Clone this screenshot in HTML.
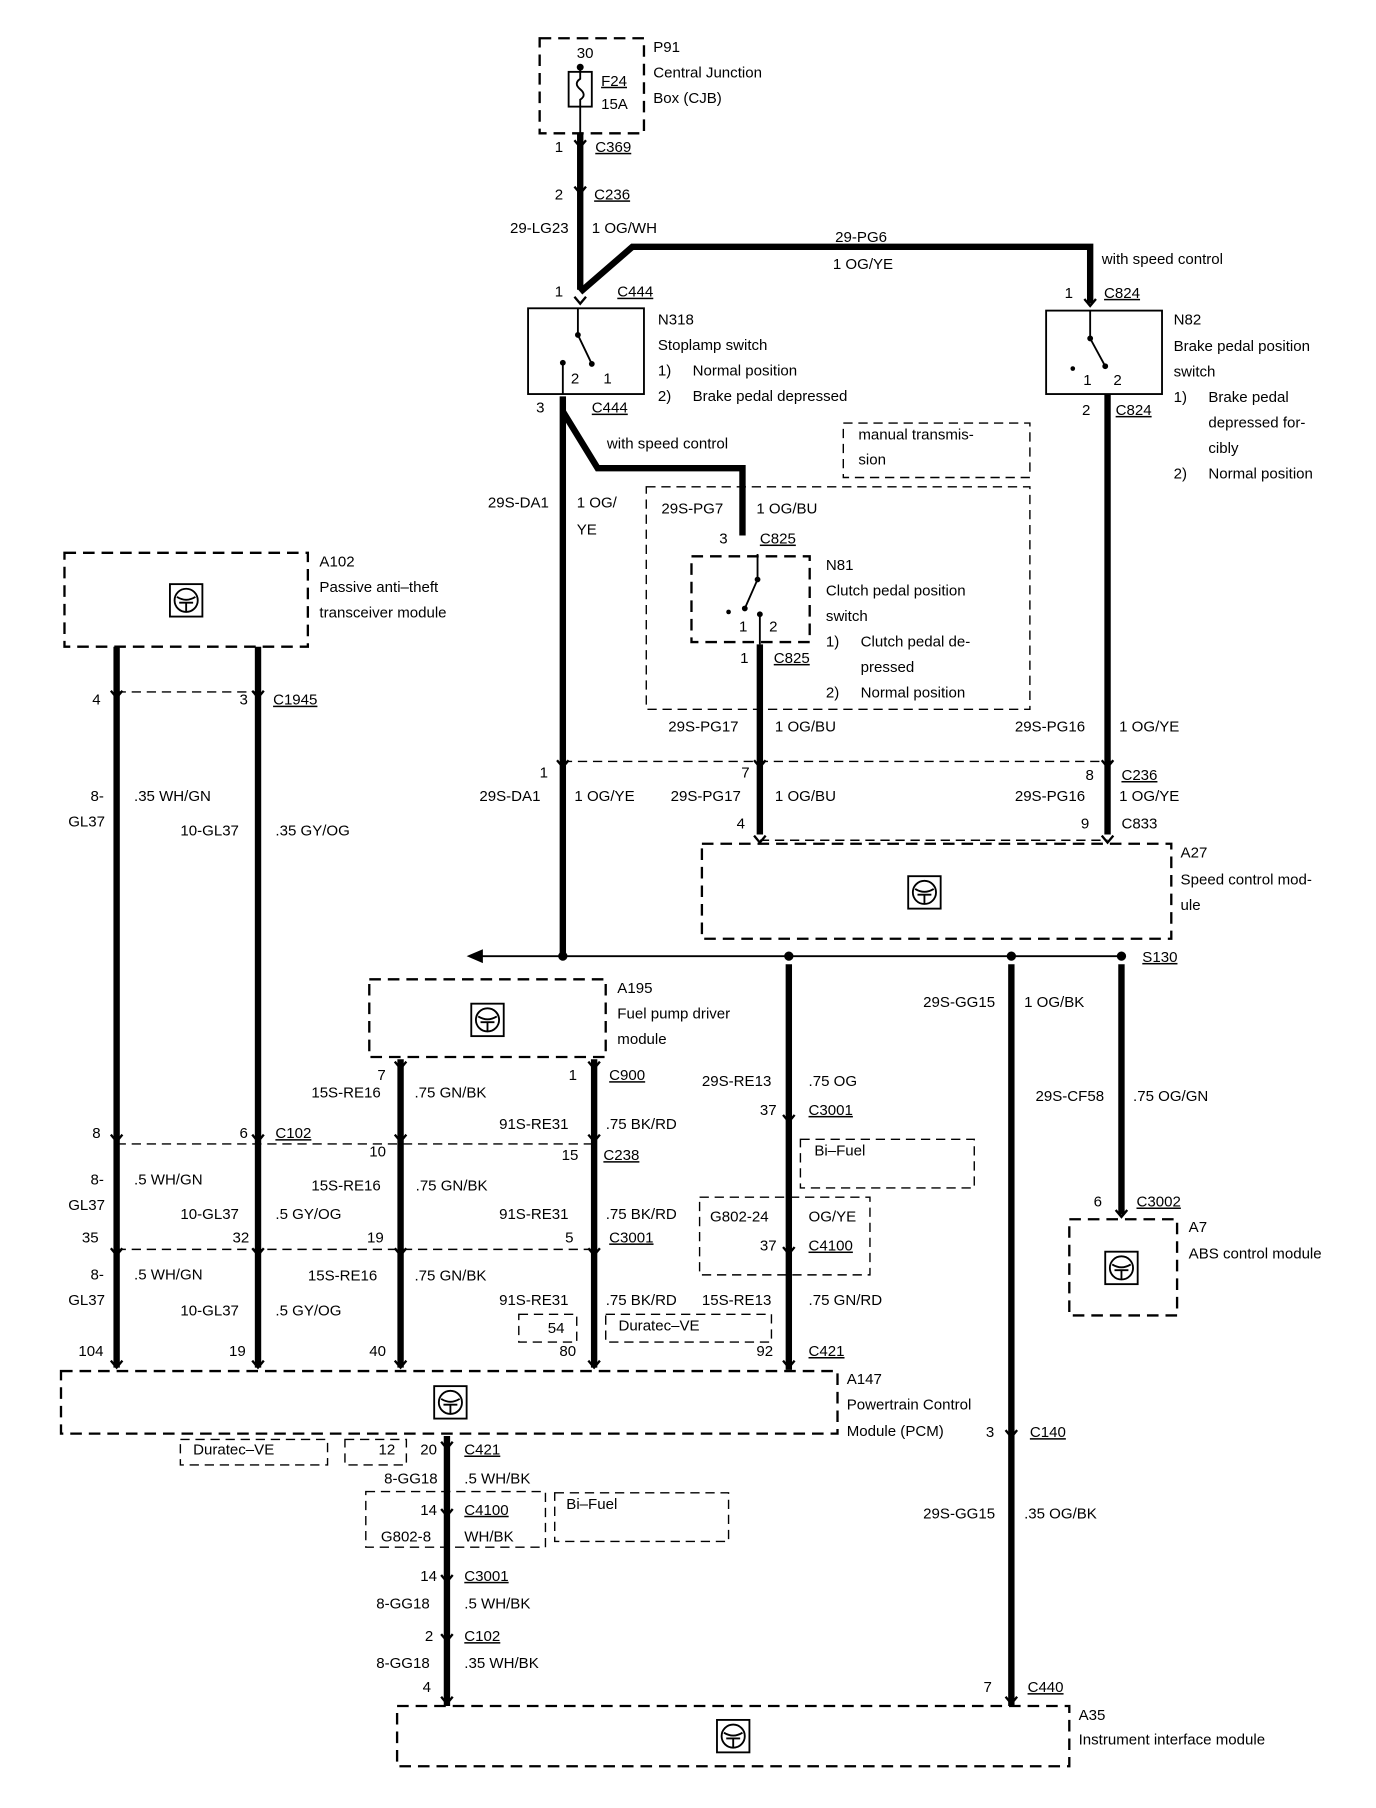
<!DOCTYPE html>
<html><head><meta charset="utf-8"><style>
html,body{margin:0;padding:0;background:#fff}
svg{display:block}
text{font-family:"Liberation Sans",Arial,sans-serif;font-size:13px;fill:#000}
.w{stroke:#000;stroke-width:5.5;fill:none;stroke-linejoin:miter}
.t{stroke:#000;stroke-width:1.6;fill:none}
.d{stroke:#000;stroke-width:2;fill:none;stroke-dasharray:10,6}
.dl{stroke:#000;stroke-width:1.2;fill:none;stroke-dasharray:8,5}
.r{text-anchor:end}
.u{text-decoration:underline}
</style></head><body>
<svg width="1376" height="1808" viewBox="0 0 1186 1560" xmlns="http://www.w3.org/2000/svg">
<defs>
<g id="ic"><rect x="-14" y="-14" width="28" height="28" fill="#fff" stroke="#000" stroke-width="1.6"/><circle cx="0" cy="0" r="10" fill="none" stroke="#000" stroke-width="1.6"/><path d="M-8,-3 Q0,2 8,-3 M-6,2 L6,2 M0,2 L0,10" stroke="#000" stroke-width="1.6" fill="none"/></g>
<path id="cn" d="M-5,-6 L0,0 L5,-6" stroke="#000" stroke-width="2" fill="none"/>
</defs>

<!-- P91 -->
<rect x="465" y="33" width="90" height="82" class="d"/>
<rect x="490" y="62" width="20" height="30" class="t"/>
<circle cx="500" cy="58" r="3"/>
<path d="M500,58 L500,68 Q494,72 500,77 Q506,82 500,86 L500,115" class="t"/>
<text x="497" y="50">30</text>
<text x="518" y="74" class="u">F24</text><text x="518" y="94">15A</text>
<text x="563" y="45">P91</text><text x="563" y="67">Central Junction</text><text x="563" y="89">Box (CJB)</text>

<path d="M500,115 L500,250" class="w"/>
<use href="#cn" x="500" y="127"/><use href="#cn" x="500" y="167"/>
<text x="478" y="131">1</text><text x="513" y="131" class="u">C369</text>
<text x="478" y="172">2</text><text x="512" y="172" class="u">C236</text>
<text x="490" y="201" class="r">29-LG23</text><text x="510" y="201">1 OG/WH</text>
<path d="M500,252 L545,213 L940,213 L940,262" class="w"/>
<text x="720" y="209">29-PG6</text><text x="718" y="232">1 OG/YE</text>
<text x="950" y="228">with speed control</text>

<!-- N318 -->
<use href="#cn" x="500" y="262"/>
<text x="478" y="256">1</text><text x="532" y="256" class="u">C444</text>
<rect x="455" y="266" width="100" height="74" class="t" stroke-width="2"/>
<path d="M498,266 L498,289 L510,314" class="t"/><circle cx="498" cy="289" r="2.5"/><circle cx="510" cy="314" r="2.5"/>
<path d="M485,340 L485,313" class="t"/><circle cx="485" cy="313" r="2.5"/>
<text x="492" y="331">2</text><text x="520" y="331">1</text>
<text x="567" y="280">N318</text><text x="567" y="302">Stoplamp switch</text>
<text x="567" y="324">1)</text><text x="597" y="324">Normal position</text>
<text x="567" y="346">2)</text><text x="597" y="346">Brake pedal depressed</text>
<text x="462" y="356">3</text><text x="510" y="356" class="u">C444</text>
<path d="M485,342 L485,825" class="w"/>
<path d="M485,355 L515,404 L640,404 L640,462" class="w"/>
<text x="523" y="387">with speed control</text>
<text x="473" y="438" class="r">29S-DA1</text><text x="497" y="438">1 OG/</text><text x="497" y="461">YE</text>

<rect x="727" y="365" width="161" height="47" class="dl"/>
<text x="740" y="379">manual transmis-</text><text x="740" y="401">sion</text>
<rect x="557" y="420" width="331" height="192" class="dl"/>
<text x="570" y="443">29S-PG7</text><text x="652" y="443">1 OG/BU</text>
<text x="620" y="469">3</text><text x="655" y="469" class="u">C825</text>
<rect x="596" y="480" width="102" height="74" class="d"/>
<path d="M653,478 L653,500 L642,525" class="t"/><circle cx="653" cy="500" r="2.5"/><circle cx="642" cy="525" r="2.5"/>
<path d="M655,530 L655,556" class="t"/><circle cx="655" cy="530" r="2.5"/><circle cx="628" cy="528" r="2"/>
<text x="637" y="545">1</text><text x="663" y="545">2</text>
<text x="712" y="492">N81</text><text x="712" y="514">Clutch pedal position</text><text x="712" y="536">switch</text>
<text x="712" y="558">1)</text><text x="742" y="558">Clutch pedal de-</text><text x="742" y="580">pressed</text>
<text x="712" y="602">2)</text><text x="742" y="602">Normal position</text>
<text x="638" y="572">1</text><text x="667" y="572" class="u">C825</text>
<path d="M655,556 L655,720" class="w"/>
<text x="576" y="631">29S-PG17</text><text x="668" y="631">1 OG/BU</text>

<!-- N82 -->
<use href="#cn" x="940" y="264"/>
<text x="918" y="257">1</text><text x="952" y="257" class="u">C824</text>
<rect x="902" y="268" width="100" height="72" class="t" stroke-width="2"/>
<path d="M940,268 L940,292 L953,316" class="t"/><circle cx="940" cy="292" r="2.5"/><circle cx="953" cy="316" r="2.5"/>
<circle cx="925" cy="318" r="2"/>
<text x="934" y="332">1</text><text x="960" y="332">2</text>
<text x="1012" y="280">N82</text><text x="1012" y="303">Brake pedal position</text><text x="1012" y="325">switch</text>
<text x="1012" y="347">1)</text><text x="1042" y="347">Brake pedal</text><text x="1042" y="369">depressed for-</text><text x="1042" y="391">cibly</text>
<text x="1012" y="413">2)</text><text x="1042" y="413">Normal position</text>
<text x="933" y="358">2</text><text x="962" y="358" class="u">C824</text>
<path d="M955,340 L955,720" class="w"/>
<text x="875" y="631">29S-PG16</text><text x="965" y="631">1 OG/YE</text>

<!-- C236 / C833 -->
<path d="M485,657 L960,657" class="dl"/>
<use href="#cn" x="485" y="662"/><use href="#cn" x="655" y="662"/><use href="#cn" x="955" y="662"/>
<text x="465" y="671">1</text><text x="413" y="691">29S-DA1</text><text x="495" y="691">1 OG/YE</text>
<text x="639" y="671">7</text><text x="578" y="691">29S-PG17</text><text x="668" y="691">1 OG/BU</text>
<text x="936" y="673">8</text><text x="967" y="673" class="u">C236</text><text x="875" y="691">29S-PG16</text><text x="965" y="691">1 OG/YE</text>
<text x="635" y="715">4</text><text x="932" y="715">9</text><text x="967" y="715">C833</text>
<path d="M655,725 L955,725" class="dl"/>
<use href="#cn" x="655" y="727"/><use href="#cn" x="955" y="727"/>
<rect x="605" y="728" width="405" height="82" class="d"/>
<use href="#ic" x="797" y="770"/>
<text x="1018" y="740">A27</text><text x="1018" y="763">Speed control mod-</text><text x="1018" y="785">ule</text>

<!-- splice -->
<path d="M414,825 L967,825" class="t"/>
<path d="M402,825 L416,819 L416,831 Z"/>
<circle cx="485" cy="825" r="4"/><circle cx="680" cy="825" r="4"/><circle cx="872" cy="825" r="4"/><circle cx="967" cy="825" r="4"/>
<text x="985" y="830" class="u">S130</text>
<path d="M680,832 L680,1182" class="w"/>
<path d="M872,832 L872,1472" class="w"/>
<path d="M967,832 L967,1048" class="w"/>
<text x="858" y="869" class="r">29S-GG15</text><text x="883" y="869">1 OG/BK</text>
<text x="952" y="950" class="r">29S-CF58</text><text x="977" y="950">.75 OG/GN</text>
<text x="943" y="1041">6</text><text x="980" y="1041" class="u">C3002</text>
<use href="#cn" x="967" y="1050"/>
<rect x="922" y="1052" width="93" height="83" class="d"/>
<use href="#ic" x="967" y="1094"/>
<text x="1025" y="1063">A7</text><text x="1025" y="1086">ABS control module</text>

<!-- A102 -->
<rect x="55" y="477" width="210" height="81" class="d"/>
<use href="#ic" x="160" y="518"/>
<text x="275" y="489">A102</text><text x="275" y="511">Passive anti–theft</text><text x="275" y="533">transceiver module</text>
<path d="M100,558 L100,1180 M222,558 L222,1180" class="w"/>
<path d="M100,597 L222,597" class="dl"/>
<use href="#cn" x="100" y="602"/><use href="#cn" x="222" y="602"/>
<text x="79" y="608">4</text><text x="206" y="608">3</text><text x="235" y="608" class="u">C1945</text>
<text x="89" y="691" class="r">8-</text><text x="90" y="713" class="r">GL37</text><text x="115" y="691">.35 WH/GN</text>
<text x="155" y="721">10-GL37</text><text x="237" y="721">.35 GY/OG</text>
<text x="79" y="982">8</text><text x="206" y="982">6</text><text x="237" y="982" class="u">C102</text>
<path d="M100,987 L515,987" class="dl"/>
<use href="#cn" x="100" y="985"/><use href="#cn" x="222" y="985"/><use href="#cn" x="345" y="985"/><use href="#cn" x="512" y="985"/>
<text x="89" y="1022" class="r">8-</text><text x="90" y="1044" class="r">GL37</text><text x="115" y="1022">.5 WH/GN</text>
<text x="155" y="1052">10-GL37</text><text x="237" y="1052">.5 GY/OG</text>
<text x="70" y="1072">35</text><text x="200" y="1072">32</text><text x="316" y="1072">19</text>
<path d="M100,1078 L515,1078" class="dl"/>
<use href="#cn" x="100" y="1083"/><use href="#cn" x="222" y="1083"/><use href="#cn" x="345" y="1083"/><use href="#cn" x="512" y="1083"/>
<text x="89" y="1104" class="r">8-</text><text x="90" y="1126" class="r">GL37</text><text x="115" y="1104">.5 WH/GN</text>
<text x="155" y="1135">10-GL37</text><text x="237" y="1135">.5 GY/OG</text>
<text x="67" y="1170">104</text><text x="197" y="1170">19</text><text x="318" y="1170">40</text><text x="482" y="1170">80</text><text x="652" y="1170">92</text><text x="697" y="1170" class="u">C421</text>

<!-- A195 -->
<rect x="318" y="845" width="204" height="67" class="d"/>
<use href="#ic" x="420" y="880"/>
<text x="532" y="857">A195</text><text x="532" y="879">Fuel pump driver</text><text x="532" y="901">module</text>
<path d="M345,914 L345,1180 M512,914 L512,1180" class="w"/>
<use href="#cn" x="345" y="922"/><use href="#cn" x="512" y="922"/>
<text x="325" y="932">7</text><text x="490" y="932">1</text><text x="525" y="932" class="u">C900</text>
<text x="268" y="947">15S-RE16</text><text x="357" y="947">.75 GN/BK</text>
<text x="430" y="974">91S-RE31</text><text x="522" y="974">.75 BK/RD</text>
<text x="318" y="998">10</text><text x="484" y="1001">15</text><text x="520" y="1001" class="u">C238</text>
<text x="268" y="1027">15S-RE16</text><text x="358" y="1027">.75 GN/BK</text>
<text x="430" y="1052">91S-RE31</text><text x="522" y="1052">.75 BK/RD</text>
<text x="487" y="1072">5</text><text x="525" y="1072" class="u">C3001</text>
<text x="265" y="1105">15S-RE16</text><text x="357" y="1105">.75 GN/BK</text>
<text x="430" y="1126">91S-RE31</text><text x="522" y="1126">.75 BK/RD</text>
<text x="605" y="1126">15S-RE13</text><text x="697" y="1126">.75 GN/RD</text>
<rect x="447" y="1134" width="50" height="24" class="dl"/><text x="472" y="1150">54</text>
<rect x="522" y="1134" width="143" height="24" class="dl"/><text x="533" y="1148">Duratec–VE</text>

<text x="605" y="937">29S-RE13</text><text x="697" y="937">.75 OG</text>
<text x="655" y="962">37</text><text x="697" y="962" class="u">C3001</text>
<use href="#cn" x="680" y="968"/>
<rect x="690" y="983" width="150" height="42" class="dl"/><text x="702" y="997">Bi–Fuel</text>
<rect x="603" y="1033" width="147" height="67" class="dl"/>
<text x="612" y="1054">G802-24</text><text x="697" y="1054">OG/YE</text>
<text x="655" y="1079">37</text><text x="697" y="1079" class="u">C4100</text>
<use href="#cn" x="680" y="1082"/>

<!-- PCM -->
<use href="#cn" x="100" y="1180"/><use href="#cn" x="222" y="1180"/><use href="#cn" x="345" y="1180"/><use href="#cn" x="512" y="1180"/><use href="#cn" x="680" y="1180"/>
<rect x="52" y="1183" width="670" height="54" class="d"/>
<use href="#ic" x="388" y="1210"/>
<text x="730" y="1194">A147</text><text x="730" y="1216">Powertrain Control</text><text x="730" y="1239">Module (PCM)</text>
<text x="850" y="1240">3</text><text x="888" y="1240" class="u">C140</text>
<use href="#cn" x="872" y="1240"/>
<text x="858" y="1310" class="r">29S-GG15</text><text x="883" y="1310">.35 OG/BK</text>
<text x="848" y="1460">7</text><text x="886" y="1460" class="u">C440</text>

<rect x="155" y="1242" width="127" height="22" class="dl"/><text x="166" y="1255">Duratec–VE</text>
<rect x="297" y="1242" width="53" height="22" class="dl"/><text x="326" y="1255">12</text>
<path d="M385,1239 L385,1472" class="w"/>
<use href="#cn" x="385" y="1250"/>
<text x="362" y="1255">20</text><text x="400" y="1255" class="u">C421</text>
<text x="377" y="1280" class="r">8-GG18</text><text x="400" y="1280">.5 WH/BK</text>
<rect x="315" y="1287" width="155" height="48" class="dl"/>
<text x="362" y="1307">14</text><text x="400" y="1307" class="u">C4100</text>
<use href="#cn" x="385" y="1308"/>
<text x="328" y="1330">G802-8</text><text x="400" y="1330">WH/BK</text>
<rect x="478" y="1288" width="150" height="42" class="dl"/><text x="488" y="1302">Bi–Fuel</text>
<use href="#cn" x="385" y="1365"/>
<text x="362" y="1364">14</text><text x="400" y="1364" class="u">C3001</text>
<text x="324" y="1388">8-GG18</text><text x="400" y="1388">.5 WH/BK</text>
<use href="#cn" x="385" y="1416"/>
<text x="366" y="1416">2</text><text x="400" y="1416" class="u">C102</text>
<text x="324" y="1439">8-GG18</text><text x="400" y="1439">.35 WH/BK</text>
<text x="364" y="1460">4</text>
<use href="#cn" x="385" y="1470"/><use href="#cn" x="872" y="1470"/>

<rect x="342" y="1472" width="580" height="52" class="d"/>
<use href="#ic" x="632" y="1498"/>
<text x="930" y="1484">A35</text><text x="930" y="1505">Instrument interface module</text>
</svg>
</body></html>
